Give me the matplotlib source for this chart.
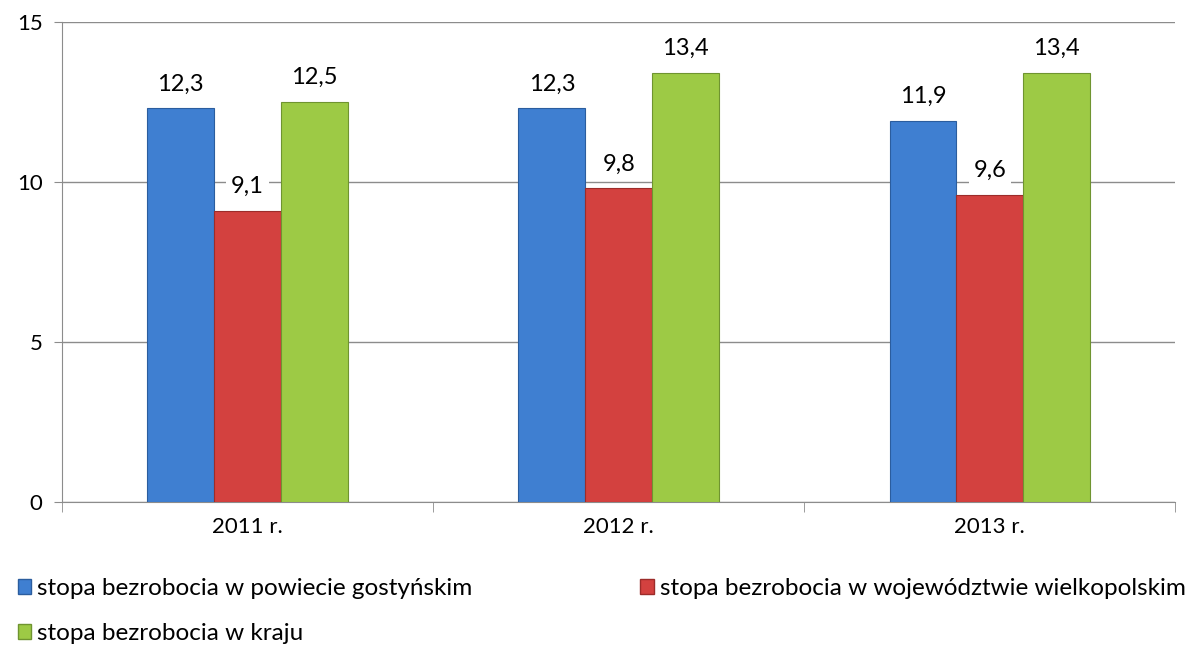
import numpy as np
import matplotlib.pyplot as plt
from matplotlib.patches import Patch

plt.rcParams["font.family"] = ["Lato", "DejaVu Sans"]

years = ["2011 r.", "2012 r.", "2013 r."]
series_names = [
    "stopa bezrobocia w powiecie gostyńskim",
    "stopa bezrobocia w województwie wielkopolskim",
    "stopa bezrobocia w kraju",
]
powiat = [12.3, 12.3, 11.9]
wojewodztwo = [9.1, 9.8, 9.6]
kraj = [12.5, 13.4, 13.4]

colors = ["#3f7fd1", "#d3413f", "#9dca45"]
edges = ["#2b5d9e", "#9c2c2a", "#6f9430"]

fig = plt.figure(figsize=(11.87, 6.51), dpi=100)
ax = fig.add_axes([0.0522, 0.2289, 0.938, 0.7373])

x = np.arange(len(years))
width = 0.18
for i, (vals, name) in enumerate(zip([powiat, wojewodztwo, kraj], series_names)):
    pos = x + (i - 1) * width
    ax.bar(pos, vals, width=width, color=colors[i], edgecolor=edges[i],
           linewidth=0.8, label=name, zorder=3)
    for px, v in zip(pos, vals):
        ax.annotate(f"{v:.1f}".replace(".", ","), (px, v),
                    xytext=(0, 10), textcoords="offset points",
                    ha="center", va="bottom", fontsize=17, zorder=4,
                    bbox=dict(boxstyle="square,pad=0.2", fc="white", ec="none"))

ax.set_xlim(-0.5, 2.5)
ax.set_ylim(0, 15)
ax.set_yticks([0, 5, 10, 15])
ax.yaxis.grid(True, color="#8c8c8c", linewidth=1, zorder=0)
ax.set_axisbelow(True)

ax.set_xticks(x)
ax.set_xticklabels(years)
ax.set_xticks(np.arange(-0.5, 3.0, 1.0), minor=True)
ax.tick_params(axis="x", which="major", length=0, pad=11, labelsize=16)
ax.tick_params(axis="x", which="minor", length=7, color="#8c8c8c")
ax.tick_params(axis="y", length=6, color="#8c8c8c", labelsize=16, pad=8)

for s in ["top", "right"]:
    ax.spines[s].set_visible(False)
for s in ["left", "bottom"]:
    ax.spines[s].set_color("#8c8c8c")

# legend is filled column by column, so reorder to get blue, red / green
order = [0, 2, 1]
handles = [Patch(facecolor=colors[k], edgecolor=edges[k]) for k in order]
labels = [series_names[k] for k in order]
fig.legend(handles, labels, loc="upper left", bbox_to_anchor=(0.007, 0.127),
           ncol=2, frameon=False, fontsize=17.5, handlelength=0.55, handleheight=0.55,
           handletextpad=0.25, columnspacing=6.9, labelspacing=1.0, borderaxespad=0)

fig.savefig("out.png", dpi=100)
